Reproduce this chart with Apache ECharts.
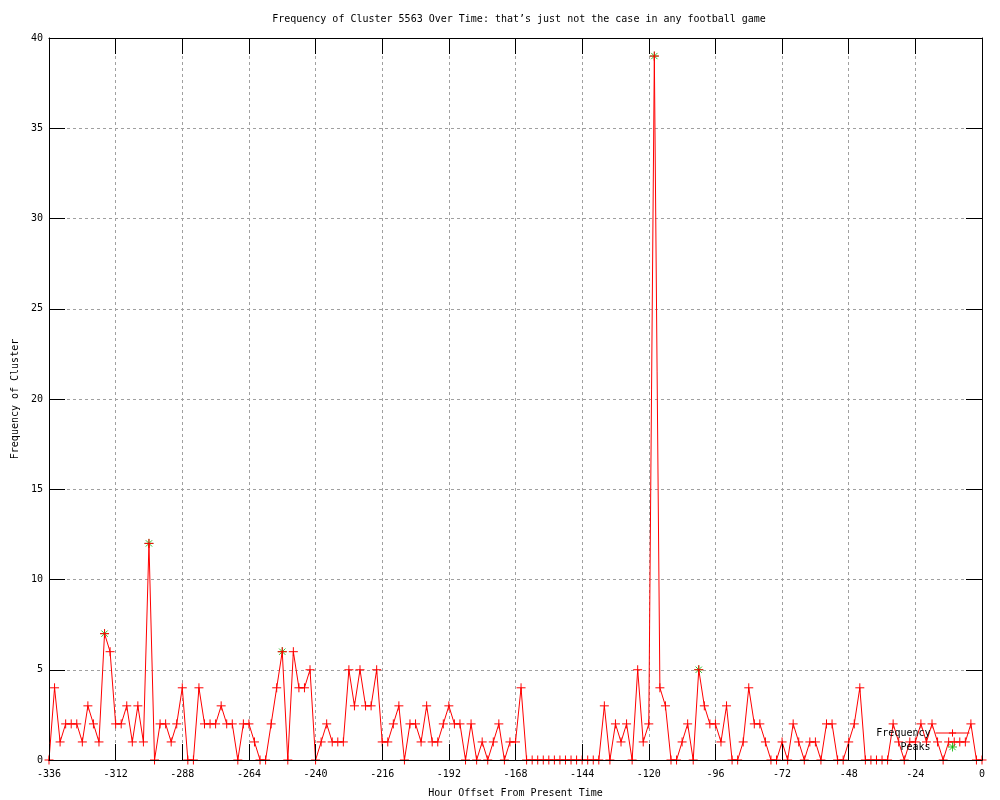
<!DOCTYPE html>
<html>
<head>
<meta charset="utf-8">
<script src="https://cdn.jsdelivr.net/npm/echarts@6/dist/echarts.min.js"></script>
<style>html,body{margin:0;padding:0;background:#fff}#c{width:1000px;height:800px}</style>
</head>
<body>
<div id="c"></div>
<script>
// ---- data ----
const titleText = "Frequency of Cluster 5563 Over Time: that’s just not the case in any football game";
const xAxisTitle = "Hour Offset From Present Time";
const yAxisTitle = "Frequency of Cluster";
const startHour = -336;   // first sample
const stepHours = 2;      // samples every 2 hours
const frequency = [
  0,4,1,2,2,2,1,3,2,1, 7,6,2,2,3,1,3,1,12,0,
  2,2,1,2,4,0,0,4,2,2, 2,3,2,2,0,2,2,1,0,0,
  2,4,6,0,6,4,4,5,0,1, 2,1,1,1,5,3,5,3,3,5,
  1,1,2,3,0,2,2,1,3,1, 1,2,3,2,2,0,2,0,1,0,
  1,2,0,1,1,4,0,0,0,0, 0,0,0,0,0,0,0,0,0,0,
  3,0,2,1,2,0,5,1,2,39, 4,3,0,0,1,2,0,5,3,2,
  2,1,3,0,0,1,4,2,2,1, 0,0,1,0,2,1,0,1,1,0,
  2,2,0,0,1,2,4,0,0,0, 0,0,2,1,0,1,1,2,1,2,
  1,0,1,1,1,1,2,0,0
];
const peakHours = [-316, -300, -252, -118, -102];
const peakValues = [7, 12, 6, 39, 5];
const xMin = -336, xMax = 0, xStep = 24;
const yMin = 0, yMax = 40, yStep = 5;

// ---- build series tables ----
const freqData = frequency.map((v, i) => [startHour + i * stepHours, v]);
const peakData = peakHours.map((h, i) => [h, peakValues[i]]);

const FONT = "DejaVu Sans Mono";
const plusPath = 'path://M0,5L10,5M5,0L5,10';
const starPath = 'path://M0,5L10,5M5,0L5,10M1.5,1.5L8.5,8.5M1.5,8.5L8.5,1.5';
const gridLine = { show: true, lineStyle: { color: '#a0a0a0', type: [3, 3], width: 1 } };
const axLine = { show: true, onZero: false, lineStyle: { color: '#000', width: 1 } };
const tick = { show: true, inside: true, length: 16, lineStyle: { color: '#000', width: 1 } };
const frameAxis = (pos) => ({
  type: 'value', position: pos, z: 10,
  axisLine: axLine, axisTick: tick, splitLine: { show: false }, axisLabel: { show: false }
});

const chart = echarts.init(document.getElementById('c'), null, { renderer: 'canvas' });
chart.setOption({
  backgroundColor: '#fff',
  animation: false,
  title: {
    text: titleText, left: 514, top: 9, textAlign: 'center',
    textStyle: { fontFamily: FONT, fontSize: 10, fontWeight: 'normal', color: '#000' }
  },
  grid: { left: 49, right: 18, top: 38, bottom: 40, containLabel: false, outerBoundsMode: 'none' },
  legend: {
    data: ['Frequency', { name: 'Peaks', icon: starPath }],
    orient: 'vertical', align: 'right', padding: 0,
    right: 30, top: 728, itemWidth: 34, itemHeight: 9, itemGap: 4,
    textStyle: { fontFamily: FONT, fontSize: 10, color: '#000' },
    lineStyle: { width: 1 },
    itemStyle: { borderWidth: 1 },
    selectedMode: false
  },
  xAxis: [{
    type: 'value', min: xMin, max: xMax, interval: xStep, position: 'bottom',
    name: xAxisTitle, nameLocation: 'middle', nameGap: 28,
    nameTextStyle: { fontFamily: FONT, fontSize: 10, color: '#000' },
    axisLine: axLine, axisTick: { show: false }, splitLine: gridLine,
    axisLabel: { fontFamily: FONT, fontSize: 10, color: '#000', margin: 9 }
  }, Object.assign(frameAxis('top'), { min: xMin, max: xMax, interval: xStep }),
     Object.assign(frameAxis('bottom'), { min: xMin, max: xMax, interval: xStep })],
  yAxis: [{
    type: 'value', min: yMin, max: yMax, interval: yStep, position: 'left',
    name: yAxisTitle, nameLocation: 'middle', nameGap: 29, nameRotate: 90,
    nameTextStyle: { fontFamily: FONT, fontSize: 10, color: '#000' },
    axisLine: axLine, axisTick: tick, splitLine: gridLine,
    axisLabel: { fontFamily: FONT, fontSize: 10, color: '#000', margin: 6 }
  }, Object.assign(frameAxis('right'), { min: yMin, max: yMax, interval: yStep })],
  series: [{
    name: 'Peaks', type: 'scatter', data: peakData, z: 2,
    symbol: starPath, symbolSize: 9,
    itemStyle: { color: '#00b000', borderColor: '#00b000', borderWidth: 1 }
  }, {
    name: 'Frequency', type: 'line', data: freqData, z: 3,
    symbol: plusPath, symbolSize: 9, showAllSymbol: true, clip: false,
    lineStyle: { color: '#ff0000', width: 1 },
    itemStyle: { color: '#ff0000', borderColor: '#ff0000', borderWidth: 1 }
  }]
});
</script>
</body>
</html>
